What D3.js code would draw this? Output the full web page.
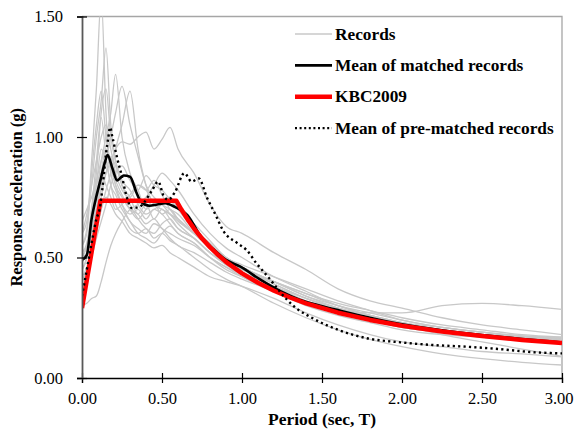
<!DOCTYPE html>
<html>
<head>
<meta charset="utf-8">
<script src="https://cdn.jsdelivr.net/npm/d3@7"></script>
<style>
  body { margin: 0; background: #fff; }
  text { font-family: "Liberation Serif", "Times New Roman", serif; }
</style>
</head>
<body>
<script>
// period grid shared by the individual records
var recordPeriods = [0, 0.03, 0.06, 0.09, 0.12, 0.15, 0.18, 0.21, 0.25, 0.3, 0.35, 0.4, 0.45, 0.5, 0.55, 0.6,
  0.7, 0.8, 0.9, 1.0, 1.2, 1.4, 1.6, 1.8, 2.0, 2.25, 2.5, 2.75, 3.0];

var records = [
  [.55,.62,.9,1.2,1.58,1.1,.85,.78,.72,.68,.7,.66,.7,.68,.64,.6,.56,.5,.46,.43,.37,.31,.27,.24,.21,.19,.17,.16,.15],
  [.6,.65,.8,1.0,1.15,1.37,1.05,.9,.8,.75,.68,.72,.66,.7,.66,.62,.58,.52,.47,.44,.38,.32,.28,.25,.22,.2,.18,.17,.16],
  [.45,.5,.6,.75,.9,1.0,1.1,1.26,1.0,.85,.78,.7,.72,.68,.7,.66,.6,.55,.5,.46,.39,.33,.29,.26,.23,.21,.19,.17,.165],
  [.5,.55,.62,.7,.8,.9,1.0,1.1,1.21,1.05,.92,.8,.75,.72,.7,.68,.6,.54,.48,.44,.38,.33,.29,.26,.23,.2,.18,.17,.16],
  [.5,.52,.6,.7,.78,.85,.9,.95,.98,.97,1.0,1.02,.95,.99,1.04,.95,.85,.72,.63,.6,.52,.45,.37,.32,.29,.25,.22,.2,.18],
  [.4,.45,.55,.7,.85,.95,.9,.8,.72,.65,.62,.6,.64,.62,.58,.55,.52,.48,.44,.41,.36,.31,.28,.27,.27,.3,.31,.3,.285],
  [.3,.31,.33,.34,.4,.48,.55,.6,.65,.7,.72,.75,.8,.85,.82,.78,.68,.6,.54,.5,.42,.36,.3,.26,.22,.18,.15,.12,.09],
  [.45,.5,.65,.8,.95,.9,.8,.72,.68,.62,.6,.62,.58,.6,.57,.55,.5,.45,.41,.38,.31,.25,.2,.16,.13,.1,.08,.065,.054],
  [.55,.6,.85,1.05,1.19,1.0,.88,.8,.75,.7,.68,.64,.66,.62,.6,.58,.55,.5,.46,.42,.36,.3,.26,.23,.2,.18,.17,.165,.16],
  [.6,.68,.8,.9,1.0,1.05,.95,.85,.78,.75,.8,.78,.72,.7,.68,.65,.6,.55,.5,.46,.4,.34,.29,.25,.22,.19,.175,.17,.165],
  [.35,.42,.55,.65,.75,.85,.92,.88,.8,.72,.66,.62,.6,.64,.66,.62,.58,.52,.47,.43,.37,.32,.28,.25,.22,.2,.18,.17,.16],
  [.48,.52,.7,.9,1.08,.92,.8,.76,.7,.65,.6,.58,.56,.6,.63,.6,.56,.5,.45,.42,.36,.31,.27,.24,.21,.19,.17,.155,.145],
  [.4,.45,.52,.6,.7,.78,.85,.95,1.05,1.19,.95,.8,.72,.7,.68,.66,.6,.54,.48,.45,.39,.33,.28,.24,.21,.19,.17,.16,.15],
  [.52,.56,.68,.8,.85,.8,.75,.7,.72,.76,.8,.78,.82,.76,.7,.66,.6,.55,.5,.46,.4,.35,.3,.27,.24,.21,.19,.175,.17],
  [.65,.7,.75,.82,.9,.95,.88,.82,.76,.7,.66,.7,.74,.72,.68,.64,.58,.52,.48,.45,.4,.35,.31,.28,.25,.22,.2,.18,.17],
  [.42,.46,.55,.62,.7,.75,.72,.68,.65,.6,.58,.56,.54,.55,.52,.5,.46,.42,.4,.38,.33,.27,.22,.18,.15,.13,.11,.1,.088],
  [.5,.55,.7,.85,1.1,1.2,1.0,.9,.82,.78,.72,.68,.7,.72,.75,.7,.62,.56,.5,.46,.4,.34,.3,.26,.23,.2,.18,.17,.16],
  [.38,.42,.5,.58,.65,.72,.8,.85,.88,.82,.78,.84,.8,.78,.74,.7,.64,.57,.5,.47,.42,.37,.32,.28,.24,.21,.19,.175,.165]
];

// mean of matched records
var matchedPeriods = [0, 0.03, 0.06, 0.085, 0.115, 0.145, 0.16, 0.19, 0.22, 0.26, 0.30, 0.34, 0.37, 0.42, 0.47,
  0.52, 0.58, 0.66, 0.74, 0.82, 0.90, 0.99, 1.11, 1.24, 1.36, 1.49, 1.61, 1.8, 2.0, 2.25, 2.5, 2.75, 3.0];
var matchedValues = [0.49, 0.51, 0.66, 0.74, 0.82, 0.90, 0.925, 0.87, 0.82, 0.84, 0.835, 0.77, 0.73, 0.715, 0.72,
  0.725, 0.71, 0.675, 0.59, 0.535, 0.49, 0.462, 0.41, 0.36, 0.325, 0.30, 0.28, 0.25, 0.223, 0.198, 0.178, 0.162, 0.148];

// KBC2009 design spectrum
var kbcPeriods = [0, 0.115, 0.59, 0.62, 0.66, 0.7, 0.75, 0.8, 0.85, 0.9, 1.0, 1.1, 1.2, 1.3, 1.4, 1.6, 1.8, 2.0,
  2.25, 2.5, 2.75, 3.0];
var kbcValues = [0.29, 0.735, 0.735, 0.7, 0.658, 0.62, 0.579, 0.543, 0.511, 0.482, 0.434, 0.395, 0.362, 0.334,
  0.31, 0.271, 0.241, 0.217, 0.193, 0.174, 0.158, 0.145];

// mean of pre-matched records
var preMatchedPeriods = [0, 0.03, 0.06, 0.09, 0.11, 0.13, 0.15, 0.165, 0.175, 0.19, 0.217, 0.25, 0.28, 0.31, 0.36,
  0.39, 0.435, 0.477, 0.51, 0.54, 0.58, 0.64, 0.685, 0.73, 0.78, 0.84, 0.88, 0.97, 1.03, 1.09, 1.175, 1.24, 1.32,
  1.45, 1.6, 1.78, 1.99, 2.19, 2.4, 2.61, 2.82, 3.0];
var preMatchedValues = [0.34, 0.45, 0.56, 0.66, 0.70, 0.80, 0.93, 1.0, 1.04, 1.0, 0.92, 0.835, 0.75, 0.705, 0.71,
  0.73, 0.775, 0.815, 0.755, 0.74, 0.77, 0.85, 0.815, 0.828, 0.75, 0.67, 0.614, 0.56, 0.53, 0.476, 0.41, 0.355, 0.30,
  0.245, 0.2, 0.165, 0.148, 0.137, 0.13, 0.12, 0.107, 0.102];

var xTicks = [0, 0.5, 1.0, 1.5, 2.0, 2.5, 3.0];
var yTicks = [0, 0.5, 1.0, 1.5];
var legendLabels = ['Records', 'Mean of matched records', 'KBC2009', 'Mean of pre-matched records'];

var width = 575, height = 431;
var margin = {top: 16.5, right: 13, bottom: 53, left: 82};

var svg = d3.select('body').append('svg')
  .attr('width', width)
  .attr('height', height);

var x = d3.scaleLinear().domain([0, 3]).range([margin.left, width - margin.right]);
var y = d3.scaleLinear().domain([0, 1.5]).range([height - margin.bottom, margin.top]);

svg.append('clipPath').attr('id', 'plot')
  .append('rect')
    .attr('x', x(0)).attr('y', y(1.5))
    .attr('width', x(3) - x(0)).attr('height', y(0) - y(1.5));

// frame top & right
svg.append('path')
  .attr('d', 'M' + x(0) + ',' + y(1.5) + 'H' + x(3) + 'V' + y(0))
  .attr('fill', 'none')
  .attr('stroke', '#a6a6a6')
  .attr('stroke-width', 1.3);

var plot = svg.append('g').attr('clip-path', 'url(#plot)');

var line = d3.line()
  .x(function(d) { return x(d[0]); })
  .y(function(d) { return y(d[1]); });

plot.selectAll('.record')
  .data(records)
  .enter().append('path')
  .attr('class', 'record')
  .attr('d', function(r) {
    return line.curve(d3.curveMonotoneX)(r.map(function(v, i) { return [recordPeriods[i], v]; }));
  })
  .attr('fill', 'none')
  .attr('stroke', '#c8c8c8')
  .attr('stroke-width', 1.3);

plot.append('path')
  .attr('d', line.curve(d3.curveMonotoneX)(d3.zip(matchedPeriods, matchedValues)))
  .attr('fill', 'none')
  .attr('stroke', '#000')
  .attr('stroke-width', 2.6);

plot.append('path')
  .attr('d', line.curve(d3.curveLinear)(d3.zip(kbcPeriods, kbcValues)))
  .attr('fill', 'none')
  .attr('stroke', '#ff0000')
  .attr('stroke-width', 4.5)
  .attr('stroke-linejoin', 'round');

plot.append('path')
  .attr('d', line.curve(d3.curveMonotoneX)(d3.zip(preMatchedPeriods, preMatchedValues)))
  .attr('fill', 'none')
  .attr('stroke', '#000')
  .attr('stroke-width', 2.4)
  .attr('stroke-dasharray', '2.2,3.2');

// axes
var xAxis = svg.append('g')
  .attr('transform', 'translate(0,' + y(0) + ')')
  .call(d3.axisBottom(x).tickValues(xTicks).tickFormat(d3.format('.2f')).tickSize(5).tickPadding(9));
xAxis.select('.domain').attr('stroke', '#000').attr('stroke-width', 1.3);
xAxis.selectAll('.tick line').attr('y1', -5).attr('stroke', '#000').attr('stroke-width', 1.2);
xAxis.selectAll('.tick text').attr('font-size', 16.5).attr('fill', '#000')
  .style('font-family', '"Liberation Serif", serif');
// last label sits against the page edge, as in the source figure
xAxis.selectAll('.tick text').filter(function(d) { return d === 3; })
  .attr('text-anchor', 'end')
  .attr('x', 573 - x(3));

var yAxis = svg.append('g')
  .attr('transform', 'translate(' + x(0) + ',0)')
  .call(d3.axisLeft(y).tickValues(yTicks).tickFormat(d3.format('.2f')).tickSize(5).tickPadding(14));
yAxis.select('.domain').attr('stroke', '#595959').attr('stroke-width', 1.8);
yAxis.selectAll('.tick line').attr('x1', 5).attr('stroke', '#000').attr('stroke-width', 1.2);
yAxis.selectAll('.tick text').attr('font-size', 16.5).attr('fill', '#000')
  .style('font-family', '"Liberation Serif", serif');

// axis titles
svg.append('text')
  .attr('x', (x(0) + x(3)) / 2)
  .attr('y', 425)
  .attr('text-anchor', 'middle')
  .attr('font-size', 17.5)
  .attr('font-weight', 'bold')
  .text('Period (sec, T)');

svg.append('text')
  .attr('transform', 'translate(22,' + (y(0) + y(1.5)) / 2 + ') rotate(-90)')
  .attr('text-anchor', 'middle')
  .attr('font-size', 16.5)
  .attr('font-weight', 'bold')
  .text('Response acceleration (g)');

// legend
var legendStyles = [
  {stroke: '#c8c8c8', width: 1.6, dash: null},
  {stroke: '#000', width: 2.6, dash: null},
  {stroke: '#ff0000', width: 4.5, dash: null},
  {stroke: '#000', width: 2.2, dash: '2,2.6'}
];

var legend = svg.append('g').attr('transform', 'translate(295,34)');
var item = legend.selectAll('.item')
  .data(legendLabels)
  .enter().append('g')
  .attr('class', 'item')
  .attr('transform', function(d, i) { return 'translate(0,' + i * 31.4 + ')'; });

item.append('line')
  .attr('x1', 0).attr('x2', 37)
  .attr('stroke', function(d, i) { return legendStyles[i].stroke; })
  .attr('stroke-width', function(d, i) { return legendStyles[i].width; })
  .attr('stroke-dasharray', function(d, i) { return legendStyles[i].dash; });

item.append('text')
  .attr('x', 40)
  .attr('y', 5.5)
  .attr('font-size', 17.3)
  .attr('font-weight', 'bold')
  .text(function(d) { return d; });
</script>
</body>
</html>
